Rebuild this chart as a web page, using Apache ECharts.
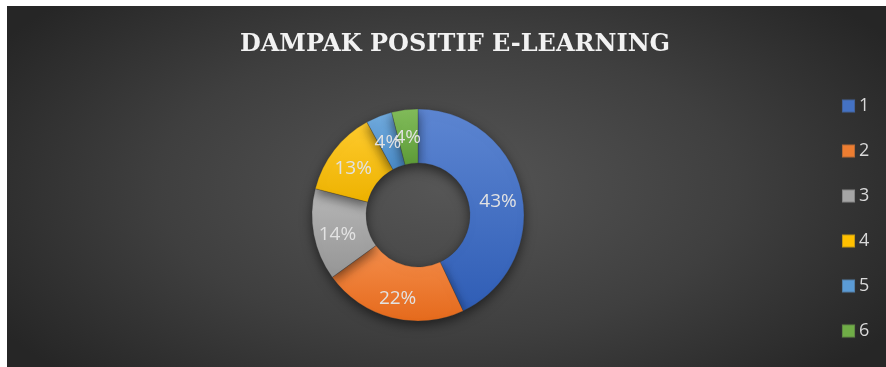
<!DOCTYPE html>
<html>
<head>
<meta charset="utf-8">
<script src="https://cdn.jsdelivr.net/npm/echarts@6/dist/echarts.min.js"></script>
<style>
  html, body { margin: 0; padding: 0; background: #ffffff; }
  #chart {
    position: absolute; left: 7px; top: 6px; width: 879px; height: 361px;
    background: radial-gradient(ellipse 60% 75% at 50% 50%, #565656 0%, #3f3f3f 55%, #262626 100%);
  }
</style>
</head>
<body>
<div id="chart"></div>
<script>
// Donut: share of each positive-impact category
const categories = ['1', '2', '3', '4', '5', '6'];
const shares = [43, 22, 14, 13, 4, 4];
const colors = ['#4472C4', '#ED7D31', '#A5A5A5', '#FFC000', '#5B9BD5', '#70AD47'];
const lightColors = ['#5D86D2', '#F58E4C', '#B7B7B7', '#FFCB2E', '#72ACDF', '#82BD5B'];
const darkColors = ['#2F5DB5', '#E56A1C', '#959595', '#EDB200', '#4A8BC7', '#5E9C38'];

const chart = echarts.init(document.getElementById('chart'), null, { renderer: 'canvas' });

const pieData = categories.map((c, i) => ({
  name: c,
  value: shares[i],
  itemStyle: {
    color: new echarts.graphic.LinearGradient(0, 0, 0, 1, [
      { offset: 0, color: lightColors[i] },
      { offset: 1, color: darkColors[i] }
    ])
  }
}));

chart.setOption({
  backgroundColor: 'transparent',
  color: colors,
  title: {
    text: 'DAMPAK POSITIF E-LEARNING',
    left: 443, top: 22, textAlign: 'center',
    textStyle: {
      fontFamily: 'DejaVu Serif', fontWeight: 'bold', fontSize: 24,
      color: '#F2F2F2'
    }
  },
  legend: {
    orient: 'vertical',
    left: 829, top: 86,
    itemWidth: 13, itemHeight: 13, itemGap: 27,
    icon: 'rect',
    textStyle: { color: '#D9D9D9', fontSize: 18, fontFamily: 'Open Sans', padding: [0, 0, 0, -1] },
    data: categories.map((c, i) => ({ name: c, itemStyle: { color: colors[i] } }))
  },
  series: [{
    type: 'pie',
    center: [411, 209],
    radius: [52, 106],
    startAngle: 90,
    clockwise: true,
    avoidLabelOverlap: false,
    label: {
      position: 'inside',
      formatter: '{d}%',
      color: '#E2E2E2',
      fontSize: 19,
      fontFamily: 'Open Sans',
      offset: [0, 4]
    },
    labelLayout: { hideOverlap: false },
    labelLine: { show: false },
    itemStyle: {
      borderColor: 'rgba(60,60,60,0.3)', borderWidth: 0.5,
      shadowBlur: 12, shadowColor: 'rgba(0,0,0,0.55)', shadowOffsetY: 4
    },
    emphasis: { disabled: true },
    data: pieData
  }]
});
</script>
</body>
</html>
